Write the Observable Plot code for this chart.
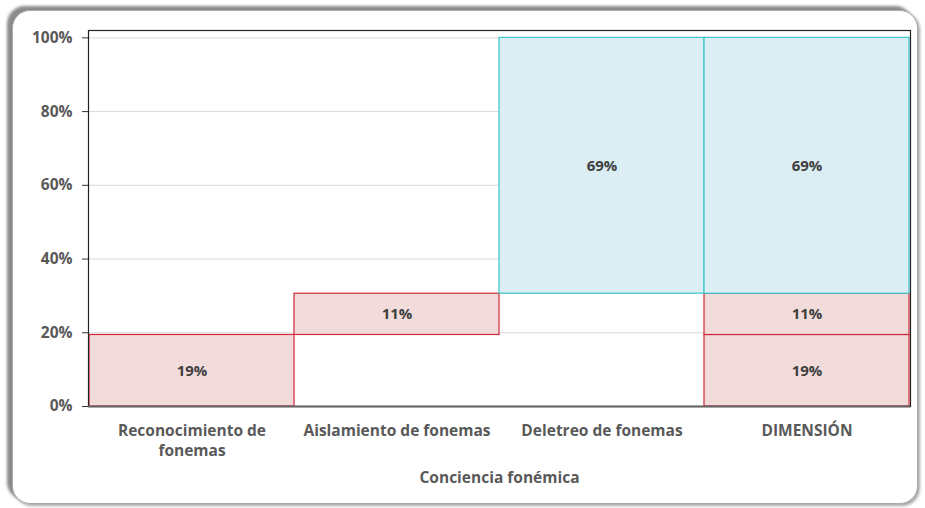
<!DOCTYPE html>
<html>
<head>
<meta charset="utf-8">
<script src="https://cdn.jsdelivr.net/npm/d3@7"></script>
<script src="https://cdn.jsdelivr.net/npm/@observablehq/plot@0.6"></script>
<style>
  html, body { margin: 0; padding: 0; background: #fff; width: 925px; height: 508px; overflow: hidden; }
  #frame {
    position: absolute; left: 12px; top: 10px; width: 904px; height: 492px;
    border-radius: 18px; border: 1px solid #aaa;
    box-shadow: -5px -4px 3px #8a8a8a, 2px 2px 3px #aaa;
    background: #fff;
  }
  #chart { position: absolute; left: 0; top: 0; }
  #chart svg { font-family: "Open Sans", sans-serif; }
</style>
</head>
<body>
<div id="frame"></div>
<div id="chart"></div>
<script>
const categories = ["Reconocimiento de fonemas", "Aislamiento de fonemas", "Deletreo de fonemas", "DIMENSIÓN"];
const tickLabels = ["Reconocimiento de\nfonemas", "Aislamiento de fonemas", "Deletreo de fonemas", "DIMENSIÓN"];
const values = [19.4, 11.2, 69.4];
const valueLabels = ["19%", "11%", "69%"];
const kinds = ["red", "red", "blue"];
const yTicks = [0, 20, 40, 60, 80, 100];
const xTitle = "Conciencia fonémica";

// build waterfall segments + stacked total column
const segs = [];
let acc = 0;
values.forEach((v, i) => {
  segs.push({cat: categories[i], y1: acc, y2: acc + v, label: valueLabels[i], kind: kinds[i]});
  segs.push({cat: categories[3], y1: acc, y2: acc + v, label: valueLabels[i], kind: kinds[i]});
  acc += v;
});

const fills = {red: "#f2dcdb", blue: "#daeef3"};
const strokes = {red: "#d0283a", blue: "#3cc4c8"};

const chart = Plot.plot({
  width: 925,
  height: 508,
  marginLeft: 88,
  marginRight: 15,
  marginTop: 30,
  marginBottom: 102,
  x: {domain: categories, padding: 0, label: null},
  y: {domain: [0, 102], label: null},
  style: {fontSize: "15px", color: "#595959", background: "transparent"},
  marks: [
    Plot.ruleY(yTicks.slice(1), {stroke: "#d9d9d9", strokeWidth: 1}),
    Plot.barY(segs, {x: "cat", y1: "y1", y2: "y2", inset: 0,
      fill: d => fills[d.kind], stroke: d => strokes[d.kind], strokeWidth: 1.2}),
    Plot.text(segs, {x: "cat", y: d => (d.y1 + d.y2) / 2, text: "label",
      fontWeight: "bold", fontSize: 15, fill: "#404040"}),
    Plot.frame({stroke: "#222", strokeWidth: 1.2}),
    Plot.ruleY([0], {stroke: "#666", strokeWidth: 2}),
    Plot.axisY({ticks: yTicks, tickFormat: d => d + "%", tickSize: 6, tickPadding: 10,
      fontWeight: "bold", fontSize: 15.5, fill: "#595959", stroke: "#333"}),
    Plot.axisX({tickSize: 0, tickPadding: 15, tickFormat: d => tickLabels[categories.indexOf(d)],
      fontWeight: "bold", fontSize: 15.5, fill: "#595959", lineHeight: 1.3, label: null}),
    Plot.text([xTitle], {frameAnchor: "bottom", dy: 76, text: d => d,
      fontWeight: "bold", fontSize: 15.5, fill: "#595959"})
  ]
});
document.getElementById("chart").appendChild(chart);
</script>
</body>
</html>
